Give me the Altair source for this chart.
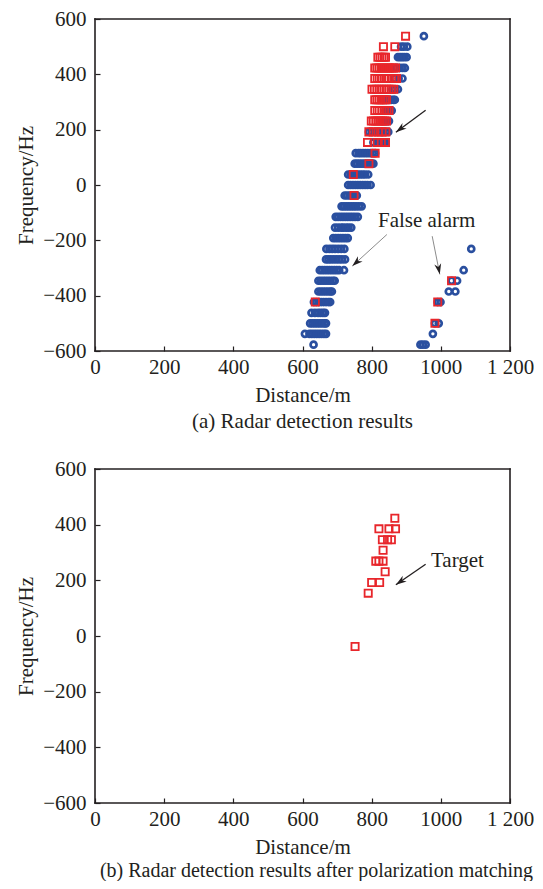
import math
import altair as alt
import pandas as pd

# ---------------- data ----------------
freq_bins = [538, 500, 462, 423, 385, 346, 308, 269, 231, 192, 154, 115, 77, 38, 0,
             -38, -77, -115, -154, -192, -231, -269, -308, -346, -385, -423, -462,
             -500, -538, -577]

# blue circles, panel (a): distances per frequency bin
blue_top = [
    [951],
    [885, 893, 903],
    [876, 882, 888, 894, 901],
    [872, 881, 889, 896],
    [866, 878, 889],
    [860, 868, 876],
    [843, 850, 857, 863, 867],
    [840, 846, 852, 858],
    [830, 838, 844, 850],
    [792, 800, 810, 819, 826, 834, 841, 848],
    [805, 816, 826, 834, 840],
    [754, 762, 768, 775, 782, 789, 796, 803, 810],
    [751, 758, 765, 772, 779, 786, 792, 799, 805],
    [732, 739, 746, 753, 760, 767, 774, 781, 790],
    [732, 739, 746, 753, 760, 767, 774, 781, 788, 797],
    [722, 729, 736, 743, 750, 757],
    [713, 720, 727, 734, 741, 748, 755, 763, 771],
    [696, 703, 710, 717, 724, 731, 738, 745, 752, 760],
    [694, 703, 712, 718, 726, 733, 741],
    [689, 696, 703, 710, 717, 724, 731],
    [669, 678, 686, 694, 703, 712, 721, 1088],
    [668, 675, 682, 690, 698, 706, 714, 723],
    [650, 657, 664, 671, 678, 685, 692, 699, 706, 720, 1066],
    [646, 653, 660, 667, 674, 681, 688, 693, 1031, 1047],
    [646, 653, 660, 667, 674, 681, 685, 1023, 1042],
    [633, 640, 647, 654, 661, 668, 675, 680, 991, 999],
    [626, 636, 645, 652, 659, 665],
    [622, 629, 636, 643, 650, 657, 664, 668, 983, 994],
    [607, 620, 627, 634, 641, 648, 655, 662, 668, 977],
    [632, 941, 948, 956],
]

# red squares, panel (a)
red_top = [
    [898],
    [834, 867],
    [818, 824, 830, 836, 840],
    [809, 815, 821, 827, 833, 839, 845, 851, 857, 863, 869],
    [809, 816, 822, 828, 836, 843, 850, 858, 866, 872],
    [801, 808, 815, 822, 829, 836, 843, 850, 857, 864],
    [809, 815, 821, 827, 833, 839, 843],
    [809, 816, 822, 830, 837, 844, 850],
    [799, 805, 812, 818, 825, 831, 837, 843],
    [792, 805, 819, 830, 841],
    [788, 816, 828, 840],
    [810],
    [792],
    [747],
    [],
    [749],
    [], [], [], [], [], [], [],
    [1031],
    [],
    [637, 991],
    [],
    [983],
    [],
    [],
]

# red squares, panel (b)
red_bottom = [
    [], [], [],
    [867],
    [821, 850, 869],
    [831, 846, 857],
    [833],
    [812, 821, 833],
    [839],
    [800, 823],
    [790],
    [], [], [], [],
    [752],
    [], [], [], [], [], [], [], [], [], [], [], [], [], [],
]

x_ticks = [0, 200, 400, 600, 800, 1000, 1200]
y_ticks = [-600, -400, -200, 0, 200, 400, 600]
x_domain = [0, 1200]
y_domain = [-600, 600]

# annotations: text labels and arrows (tail -> tip) in data units
top_labels = pd.DataFrame({"distance": [959], "frequency": [-131], "text": ["False alarm"]})
top_arrows = pd.DataFrame({
    "d1": [956, 844, 975], "f1": [270, -179, -185],
    "d2": [870, 744, 997], "f2": [191, -293, -323],
    "kind": ["dark", "light", "light"],
})
bot_labels = pd.DataFrame({"distance": [1048], "frequency": [270], "text": ["Target"]})
bot_arrows = pd.DataFrame({
    "d1": [956], "f1": [258], "d2": [870], "f2": [184], "kind": ["dark"],
})

# ---------------- styling ----------------
FONT = "Liberation Serif"
TXT = "#231f20"
BLUE = "#2a4f9f"
RED = "#e8262b"
W = 415
H_TOP = 332
H_BOT = 334
ARROW_PATH = "M0,0 L0.55,1.7 L0,1.2 L-0.55,1.7 Z"


def flatten(rows):
    recs = []
    for f, ds in zip(freq_bins, rows):
        for d in ds:
            recs.append({"distance": d, "frequency": f})
    return pd.DataFrame(recs)


def add_angle(df, h):
    angs = []
    for _, r in df.iterrows():
        dx = (r.d2 - r.d1) * W / 1200.0
        dy = -(r.f2 - r.f1) * h / 1200.0
        angs.append((math.degrees(math.atan2(dx, -dy)) + 360) % 360)
    df = df.copy()
    df["angle"] = angs
    return df


def axes():
    xa = alt.Axis(values=x_ticks, title="Distance/m", grid=False, domain=False,
                  tickSize=5, offset=-5, tickColor=TXT, tickWidth=1.2,
                  labelExpr="datum.value == 1200 ? '1 200' : format(datum.value, 'd')",
                  labelFlush=False, labelOverlap=False, labelPadding=5,
                  labelFont=FONT, labelFontSize=21, labelColor=TXT,
                  titleFont=FONT, titleFontSize=21, titleFontWeight="normal",
                  titleColor=TXT, titlePadding=7)
    ya = alt.Axis(values=y_ticks, title="Frequency/Hz", grid=False, domain=False,
                  tickSize=5, offset=-5, tickColor=TXT, tickWidth=1.2,
                  format="d", labelOverlap=False, labelPadding=9, labelFlush=False,
                  labelFont=FONT, labelFontSize=21, labelColor=TXT,
                  titleFont=FONT, titleFontSize=21, titleFontWeight="normal",
                  titleColor=TXT, titlePadding=6)
    return xa, ya


def xs():
    return alt.Scale(domain=x_domain, nice=False, zero=False)


def ys():
    return alt.Scale(domain=y_domain, nice=False, zero=False)


# the box around each plot: its four edges, in data units
frame_edges = pd.DataFrame({
    "d1": [x_domain[0], x_domain[0], x_domain[0], x_domain[1]],
    "f1": [y_domain[0], y_domain[1], y_domain[0], y_domain[0]],
    "d2": [x_domain[1], x_domain[1], x_domain[0], x_domain[1]],
    "f2": [y_domain[0], y_domain[1], y_domain[1], y_domain[1]],
})


def panel(h, layers_data, labels, arrows, caption, cap_dx, cap_size, cap_off):
    xa, ya = axes()
    base_x = alt.X("distance:Q", scale=xs(), axis=xa)
    base_y = alt.Y("frequency:Q", scale=ys(), axis=ya)
    layers = []
    for df, kind in layers_data:
        if kind == "blue":
            m = alt.Chart(df).mark_point(shape="circle", filled=False, color=BLUE,
                                         size=36, strokeWidth=2.7, opacity=1)
        else:
            m = alt.Chart(df).mark_point(shape="square", filled=False, color=RED,
                                         size=52, strokeWidth=1.8, opacity=1)
        layers.append(m.encode(x=base_x, y=base_y))
    frame = alt.Chart(frame_edges).mark_rule(color=TXT, strokeWidth=1.6,
                                             strokeCap="square").encode(
        x=alt.X("d1:Q", scale=xs()), y=alt.Y("f1:Q", scale=ys()),
        x2="d2:Q", y2="f2:Q",
    )
    arr = add_angle(arrows, h)
    rule = alt.Chart(arr).mark_rule().encode(
        x=alt.X("d1:Q", scale=xs()), y=alt.Y("f1:Q", scale=ys()),
        x2="d2:Q", y2="f2:Q",
        color=alt.Color("kind:N", scale=alt.Scale(domain=["dark", "light"],
                                                  range=[TXT, "#6d6d6d"]), legend=None),
        strokeWidth=alt.StrokeWidth("kind:N", scale=alt.Scale(domain=["dark", "light"],
                                                               range=[1.3, 0.8]), legend=None),
    )
    heads = alt.Chart(arr).mark_point(shape=ARROW_PATH, filled=True, color=TXT,
                                      size=160, opacity=1, strokeWidth=0).encode(
        x=alt.X("d2:Q", scale=xs()), y=alt.Y("f2:Q", scale=ys()),
        angle=alt.Angle("angle:Q", scale=None),
    )
    text = alt.Chart(labels).mark_text(font=FONT, fontSize=21, color=TXT,
                                       align="center", baseline="middle").encode(
        x=alt.X("distance:Q", scale=xs()), y=alt.Y("frequency:Q", scale=ys()),
        text="text:N",
    )
    layers += [frame, rule, heads, text]
    return alt.layer(*layers).properties(
        width=W, height=h,
        title=alt.TitleParams(caption, orient="bottom", anchor="middle", frame="group",
                              font=FONT, fontSize=cap_size, fontWeight="normal", color=TXT,
                              offset=cap_off, dx=cap_dx),
    )


top = panel(H_TOP, [(flatten(blue_top), "blue"), (flatten(red_top), "red")],
            top_labels, top_arrows, "(a) Radar detection results", 0, 21, 6)
bottom = panel(H_BOT, [(flatten(red_bottom), "red")],
               bot_labels, bot_arrows,
               "(b) Radar detection results after polarization matching", 14, 20, 4)

chart = alt.vconcat(top, bottom, spacing=26, background="white").properties(
    padding={"left": 7, "top": 0, "right": 0, "bottom": 0}
).configure_view(strokeWidth=0)

chart.save("out.html", embed_options={"renderer": "svg", "actions": False})
